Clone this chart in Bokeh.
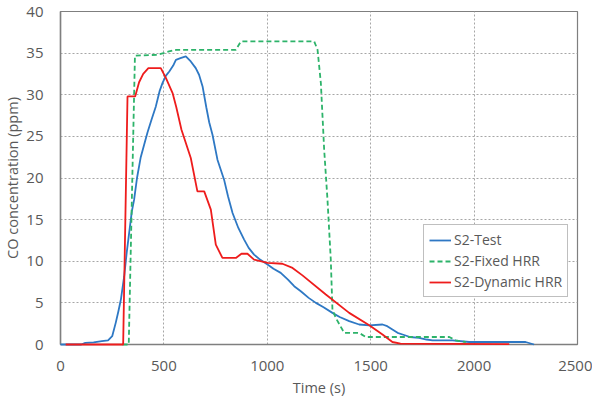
from bokeh.plotting import figure
from bokeh.models import Legend, LegendItem, FixedTicker, Range1d
from bokeh.embed import file_html
from bokeh.resources import INLINE

# S2-Test
test_t = [0, 100, 120, 160, 200, 230, 250, 267, 280, 292, 308, 320, 332, 345, 356, 370, 388, 410, 421, 440,
          461, 480, 493, 510, 526, 545, 558, 580, 606, 630, 654, 670, 687, 705, 719, 735, 759, 775, 791, 810,
          832, 860, 888, 910, 936, 965, 1001, 1030, 1065, 1100, 1130, 1162, 1200, 1235, 1270, 1315, 1350, 1396,
          1444, 1493, 1557, 1580, 1605, 1630, 1654, 1690, 1734, 1770, 1799, 1896, 1976, 2249, 2290]
test_co = [0, 0, 0.2, 0.25, 0.4, 0.5, 1.0, 2.6, 4.0, 5.4, 8.2, 11, 13.4, 16, 17.4, 20, 22.5, 24.5, 25.5, 27,
           28.6, 30.5, 31.4, 32.3, 32.8, 33.5, 34.2, 34.4, 34.6, 34.0, 33.2, 32.4, 31, 28.5, 26.7, 25.2, 22.2, 21.0, 19.8, 17.8,
           15.8, 14, 12.6, 11.6, 10.8, 10.2, 9.6, 9.1, 8.6, 7.8, 7, 6.4, 5.6, 5.0, 4.5, 3.8, 3.3, 2.8,
           2.4, 2.3, 2.4, 2.2, 1.8, 1.4, 1.2, 0.9, 0.8, 0.6, 0.5, 0.5, 0.3, 0.3, 0]

# S2-Fixed HRR
fixed_t = [300, 330, 360, 469, 525, 560, 848, 872, 1227, 1243, 1259, 1275, 1291, 1307, 1315, 1331, 1372,
           1444, 1476, 1880, 1911, 1960]
fixed_co = [0, 0, 34.7, 34.8, 35.2, 35.4, 35.4, 36.4, 36.4, 35.4, 31.4, 23.4, 17.4, 10.2, 4.2, 3.2, 1.4,
            1.4, 0.9, 0.9, 0.5, 0.3]

# S2-Dynamic HRR
dyn_t = [25, 303, 324, 361, 380, 400, 425, 485, 510, 542, 560, 585, 630, 662, 695, 727, 751, 783, 848, 875,
         904, 936, 1001, 1073, 1122, 1170, 1283, 1396, 1493, 1557, 1605, 1644, 2170]
dyn_co = [0, 0, 29.8, 29.8, 31.5, 32.5, 33.2, 33.2, 32, 30.2, 28.5, 25.8, 22.4, 18.4, 18.4, 16.2, 12.0, 10.4, 10.4, 10.9,
          10.9, 10.2, 9.8, 9.7, 9.2, 8.3, 6.0, 3.8, 2.3, 1.2, 0.3, 0.1, 0.05]

x_ticks = [0, 500, 1000, 1500, 2000, 2500]
y_ticks = [0, 5, 10, 15, 20, 25, 30, 35, 40]

FONT = "Open Sans"
GREY = "#595959"

p = figure(frame_width=517, frame_height=333, output_backend="svg", toolbar_location=None,
           x_range=Range1d(0, 2500), y_range=Range1d(0, 40),
           min_border_left=40, min_border_top=11, min_border_right=15, min_border_bottom=10)
p.background_fill_color = "white"
p.border_fill_color = "white"
p.outline_line_color = "#7f7f7f"
p.outline_line_width = 1.2

for ax, ticks in ((p.xaxis, x_ticks), (p.yaxis, y_ticks)):
    ax.ticker = FixedTicker(ticks=ticks)
    ax.major_tick_line_color = None
    ax.minor_tick_line_color = None
    ax.axis_line_color = "#7f7f7f"
    ax.axis_line_width = 1.5
    ax.major_label_text_font = FONT
    ax.major_label_text_font_size = "15px"
    ax.major_label_text_color = GREY
    ax.axis_label_text_font = FONT
    ax.axis_label_text_font_size = "14.5px"
    ax.axis_label_text_color = GREY
    ax.axis_label_text_font_style = "normal"

p.xaxis.axis_label = "Time (s)"
p.yaxis.axis_label = "CO concentration (ppm)"
p.xaxis.major_label_standoff = 10
p.yaxis.major_label_standoff = 11
p.xaxis.axis_label_standoff = 4
p.yaxis.axis_label_standoff = 1

for g in (p.xgrid, p.ygrid):
    g.grid_line_color = "#a6a6a6"
    g.grid_line_dash = "2 2"
    g.grid_line_width = 1

r_test = p.line(test_t, test_co, line_color="#2E78C4", line_width=1.8, level="overlay")
r_fixed = p.line(fixed_t, fixed_co, line_color="#2DB36A", line_width=1.8, line_dash="5 3", level="overlay")
r_dyn = p.line(dyn_t, dyn_co, line_color="#EE1C1C", line_width=1.8, level="overlay")

legend = Legend(items=[LegendItem(label="S2-Test", renderers=[r_test]),
                       LegendItem(label="S2-Fixed HRR", renderers=[r_fixed]),
                       LegendItem(label="S2-Dynamic HRR", renderers=[r_dyn])],
                location=(363, 47))
legend.label_text_font = FONT
legend.label_text_font_size = "14px"
legend.label_text_color = GREY
legend.border_line_color = "#7f7f7f"
legend.border_line_width = 1
legend.background_fill_color = "white"
legend.background_fill_alpha = 1
legend.padding = 5
legend.spacing = 2
legend.glyph_width = 22
legend.glyph_height = 18
legend.label_height = 18
legend.label_standoff = 3
legend.margin = 0
p.add_layout(legend, "center")

open("out.html", "w").write(file_html(p, INLINE))
